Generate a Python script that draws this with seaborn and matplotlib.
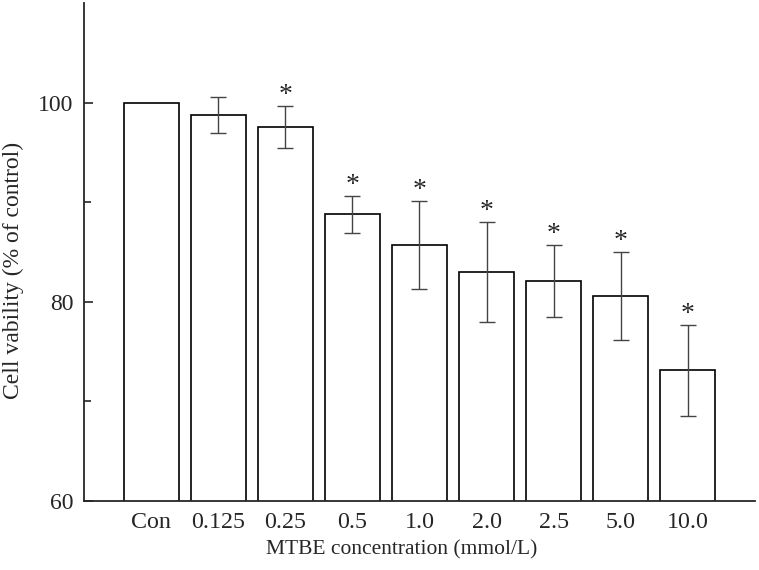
import seaborn as sns
import matplotlib.pyplot as plt
import pandas as pd
import numpy as np

# data
concentrations = ["Con", "0.125", "0.25", "0.5", "1.0", "2.0", "2.5", "5.0", "10.0"]
viability = [100.0, 98.75, 97.55, 88.78, 85.7, 83.0, 82.1, 80.54, 73.1]
sd = [0.0, 1.8, 2.1, 1.85, 4.4, 5.05, 3.6, 4.4, 4.6]
significant = [False, False, True, True, True, True, True, True, True]

df = pd.DataFrame({"Concentration": concentrations, "Viability": viability, "SD": sd})

sns.set_style("ticks")
plt.rcParams["font.family"] = ["Liberation Serif", "DejaVu Serif"]

fig = plt.figure(figsize=(7.59, 5.70), dpi=100)
ax = fig.add_axes([0.1107, 0.1216, 0.884, 0.873])

sns.barplot(data=df, x="Concentration", y="Viability", color="white",
            edgecolor="black", linewidth=1.2, width=0.82, errorbar=None, ax=ax)

# error bars only where there is a spread (control has none)
x = np.arange(len(df))
has_err = df["SD"] > 0
ax.errorbar(x[has_err], df["Viability"][has_err], yerr=df["SD"][has_err],
            fmt="none", ecolor="#444444", elinewidth=1.0, capsize=5.5, capthick=1.0)

# significance markers
for xi, v, s, sig in zip(x, viability, sd, significant):
    if sig:
        ax.text(xi, v + s - 0.2, "*", ha="center", va="bottom", fontsize=20)

ax.set_ylim(60, 110)
ax.set_xlim(-1, 9)
ax.set_yticks([60, 80, 100])
ax.set_yticks([70, 90], minor=True)
ax.tick_params(axis="y", which="major", direction="in", length=6.5, width=1.2,
               labelsize=17, pad=7.5)
ax.tick_params(axis="y", which="minor", direction="in", length=5, width=1.2)
ax.tick_params(axis="x", length=0, labelsize=17.3, pad=8.5)

ax.set_xlabel("MTBE concentration (mmol/L)", fontsize=15.5)
ax.set_ylabel("Cell vability (% of control)", fontsize=17)
ax.xaxis.set_label_coords(0.474, -0.08)
ax.yaxis.set_label_coords(-0.09, 0.4635)

sns.despine(ax=ax)
for side in ["left", "bottom"]:
    ax.spines[side].set_linewidth(1.3)

fig.savefig("out.png", dpi=100)
plt.close()
